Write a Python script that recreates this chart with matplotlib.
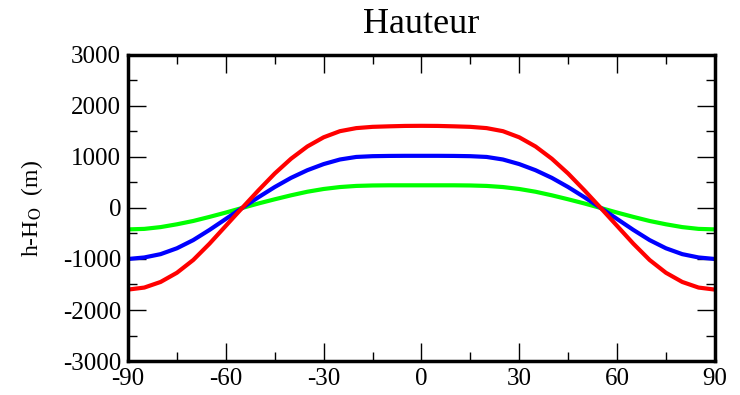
import numpy as np
import matplotlib
matplotlib.use('Agg')
import matplotlib.pyplot as plt
from matplotlib.ticker import MultipleLocator

plt.rcParams['font.family'] = ['Liberation Serif', 'DejaVu Serif']
plt.rcParams['mathtext.fontset'] = 'stix'
plt.rcParams['axes.unicode_minus'] = False

# latitude (deg)
lat = [-90, -85, -80, -75, -70, -65, -60, -55, -50, -45, -40, -35, -30, -25, -20, -15, -10, -5,
       0, 5, 10, 15, 20, 25, 30, 35, 40, 45, 50, 55, 60, 65, 70, 75, 80, 85, 90]

# h - H0 (m)
red = [-1600, -1560, -1450, -1270, -1020, -700, -350, 0, 345, 675, 965, 1205, 1385, 1505, 1565, 1590, 1600, 1608,
       1610, 1608, 1600, 1590, 1565, 1505, 1385, 1205, 965, 675, 345, 0, -350, -700, -1020, -1270, -1450, -1560, -1600]
blue = [-1000, -970, -905, -790, -630, -430, -215, 0, 210, 410, 590, 740, 860, 950, 1000, 1015, 1020, 1022,
        1022, 1022, 1020, 1015, 1000, 950, 860, 740, 590, 410, 210, 0, -215, -430, -630, -790, -905, -970, -1000]
green = [-420, -410, -375, -320, -255, -175, -90, 0, 88, 170, 248, 318, 372, 410, 432, 441, 444, 444,
         444, 444, 444, 441, 432, 410, 372, 318, 248, 170, 88, 0, -90, -175, -255, -320, -375, -410, -420]

fig = plt.figure(figsize=(7.4, 3.95), dpi=100)
ax = fig.add_axes([0.173, 0.086, 0.793, 0.775])

ax.plot(lat, green, color='#00ff00', lw=3, solid_joinstyle='round')
ax.plot(lat, blue, color='#0000ff', lw=3, solid_joinstyle='round')
ax.plot(lat, red, color='#ff0000', lw=3, solid_joinstyle='round')

ax.set_xlim(-90, 90)
ax.set_ylim(-3000, 3000)
ax.xaxis.set_major_locator(MultipleLocator(30))
ax.xaxis.set_minor_locator(MultipleLocator(15))
ax.yaxis.set_major_locator(MultipleLocator(1000))
ax.yaxis.set_minor_locator(MultipleLocator(500))
ax.tick_params(which='both', direction='in', top=True, right=True, width=1.0, labelsize=18)
ax.tick_params(which='major', length=13, pad=5)
ax.tick_params(which='minor', length=6.5)
for s in ax.spines.values():
    s.set_linewidth(2.5)

ax.set_title('Hauteur', fontsize=26, pad=16)
ax.set_ylabel(r'h-H$_{\mathrm{O}}$  (m)', fontsize=17, labelpad=13)

fig.savefig('out.png', dpi=100)
